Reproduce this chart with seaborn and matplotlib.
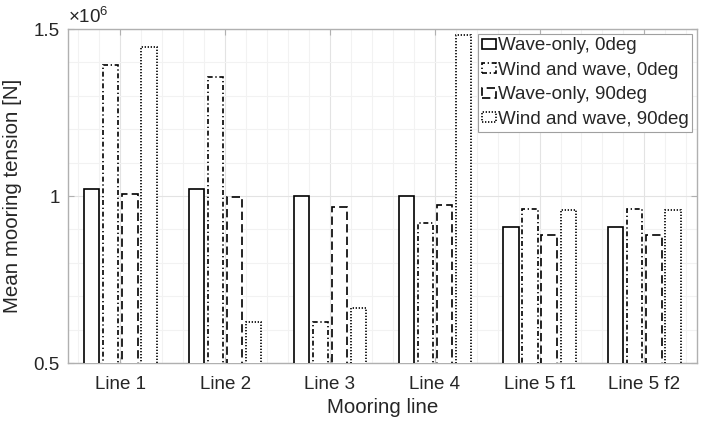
import matplotlib
matplotlib.use("Agg")
import matplotlib.pyplot as plt
import numpy as np
import pandas as pd
import seaborn as sns
from matplotlib.patches import Patch
from matplotlib.ticker import FuncFormatter, MultipleLocator

mooring_lines = ["Line 1", "Line 2", "Line 3", "Line 4", "Line 5 f1", "Line 5 f2"]
cases = ["Wave-only, 0deg", "Wind and wave, 0deg", "Wave-only, 90deg", "Wind and wave, 90deg"]

# mean tension [N]
wave_0 = [1.020e6, 1.020e6, 1.001e6, 1.001e6, 0.908e6, 0.908e6]
wind_wave_0 = [1.392e6, 1.355e6, 0.624e6, 0.920e6, 0.960e6, 0.960e6]
wave_90 = [1.007e6, 0.996e6, 0.966e6, 0.974e6, 0.884e6, 0.884e6]
wind_wave_90 = [1.447e6, 0.624e6, 0.664e6, 1.483e6, 0.958e6, 0.958e6]

line_styles = ["-", (0, (3, 1.6, 0.8, 1.6)), (0, (5, 2.5)), (0, (0.8, 1.0))]

df = pd.DataFrame({
    "line": mooring_lines * 4,
    "case": np.repeat(cases, len(mooring_lines)),
    "tension": wave_0 + wind_wave_0 + wave_90 + wind_wave_90,
})

sns.set_style("ticks")
plt.rcParams["font.family"] = ["Liberation Sans", "DejaVu Sans"]
plt.rcParams["mathtext.fontset"] = "custom"
plt.rcParams["mathtext.rm"] = "Liberation Sans"

fig = plt.figure(figsize=(7.11, 4.23), dpi=100)
ax = fig.add_axes([0.0956, 0.1418, 0.8844, 0.7896])

sns.barplot(
    data=df, x="line", y="tension", hue="case", order=mooring_lines,
    hue_order=cases, palette=["white"] * 4, width=0.727, gap=0.2,
    edgecolor="black", linewidth=1.2, legend=False, ax=ax, zorder=3,
)
for cont, ls in zip(ax.containers, line_styles):
    for bar in cont:
        bar.set_linestyle(ls)
        bar.set_zorder(3)

ax.set_ylim(0.5e6, 1.5e6)
ax.set_xlim(-0.5, 5.5)
ax.set_yticks([0.5e6, 1.0e6, 1.5e6])
ax.yaxis.set_major_formatter(FuncFormatter(lambda v, p: f"{v / 1e6:g}"))
ax.yaxis.set_minor_locator(MultipleLocator(0.1e6))
ax.xaxis.set_minor_locator(MultipleLocator(0.2))

ax.grid(which="major", color="#e3e3e3", lw=0.8, zorder=0)
ax.grid(which="minor", color="#f2f2f2", lw=0.8, zorder=0)
ax.set_axisbelow(True)

for s in ax.spines.values():
    s.set_visible(True)
    s.set_color("#b0b0b0")
    s.set_linewidth(1.0)
ax.tick_params(which="major", direction="in", length=4, color="#b0b0b0",
               labelsize=13.5, labelcolor="#262626", top=True, right=True, pad=6)
ax.tick_params(axis="x", which="major", pad=9)
ax.tick_params(which="minor", length=0)

ax.set_xlabel("Mooring line", fontsize=14.8, color="#262626", labelpad=4)
ax.set_ylabel("Mean mooring tension [N]", fontsize=14.8, color="#262626", labelpad=8)
ax.text(0.0, 1.005, r"$\times\mathregular{10^{6}}$", transform=ax.transAxes,
        fontsize=13.5, color="#262626", ha="left", va="bottom")

handles = [Patch(facecolor="white", edgecolor="black", linestyle=ls, lw=1.2)
           for ls in line_styles]
leg = ax.legend(handles, cases, loc="upper right", fontsize=13.5, frameon=True,
                fancybox=False, framealpha=1, edgecolor="#a0a0a0",
                handlelength=0.75, handleheight=0.45, handletextpad=0.1,
                labelspacing=0.4, borderpad=0.2, borderaxespad=0.25)
leg.get_frame().set_linewidth(0.8)

fig.savefig("out.png", dpi=100)
